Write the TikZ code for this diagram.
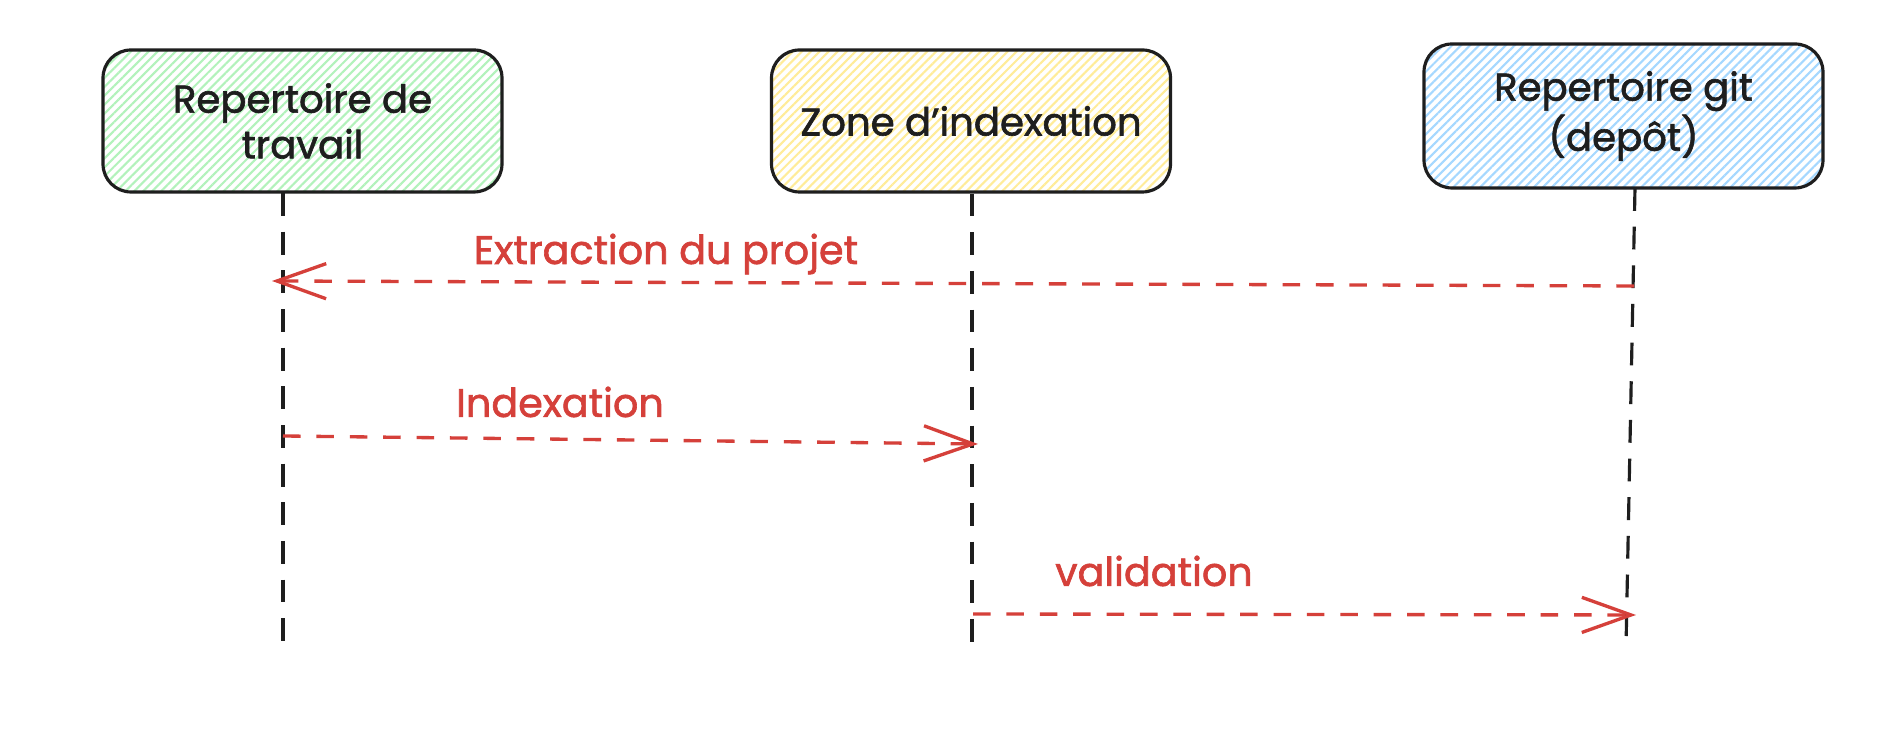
\documentclass[tikz,border=0pt]{standalone}
\usepackage{fontspec}
\setmainfont{Poppins}[FakeBold=1.6]
\usetikzlibrary{arrows.meta,patterns.meta}
\definecolor{ink}{HTML}{1E1E1E}
\definecolor{msgred}{HTML}{D5403A}
\definecolor{hgreen}{HTML}{B2F2BB}
\definecolor{hyellow}{HTML}{FFEC99}
\definecolor{hblue}{HTML}{A5D8FF}

\begin{document}
\begin{tikzpicture}[
    actor/.style={draw=ink, line width=0.9pt, rounded corners=0.28cm, minimum width=3.99cm, minimum height=1.42cm, align=center, text=ink, font=\fontsize{11}{13}\selectfont},
    hatch/.style={pattern={Lines[angle=45,distance=1.8pt,line width=0.6pt]}, pattern color=#1},
    life/.style={draw=ink, line width=0.9pt, dash pattern=on 6.5pt off 4.5pt},
    msg/.style={draw=msgred, line width=0.95pt, dash pattern=on 5pt off 4.5pt, -{Straight Barb[length=14pt,width=10pt,line width=0.95pt]}},
    lbl/.style={text=msgred, font=\fontsize{11.3}{13}\selectfont}
]
    \fill[white] (0,0) rectangle (18.98,-7.46);

    \node[actor, hatch=hgreen] (travail) at (3.025,-1.21) {Repertoire de\\travail};
    \node[actor, hatch=hyellow] (index) at (9.71,-1.21) {Zone d’indexation};
    \node[actor, hatch=hblue, minimum height=1.44cm] (depot) at (16.235,-1.16) {Repertoire git\\(depôt)};

    \coordinate (travailend) at (2.83,-6.48);
    \coordinate (indexend) at (9.72,-6.48);
    \coordinate (depottop) at (16.35,-1.88);
    \coordinate (depotend) at (16.26,-6.48);
    \draw[life] (travail.south -| travailend) -- (travailend);
    \draw[life] (index.south -| indexend) -- (indexend);
    \draw[life] (depottop) -- (depotend);

    \coordinate (extrfrom) at (16.34,-2.86);
    \coordinate (extrto) at (2.72,-2.81);
    \coordinate (idxfrom) at (2.83,-4.36);
    \coordinate (idxto) at (9.78,-4.44);
    \coordinate (valfrom) at (9.73,-6.14);
    \coordinate (valto) at (16.36,-6.15);

    \draw[msg] (extrfrom) -- (extrto);
    \draw[msg] (idxfrom) -- (idxto);
    \draw[msg] (valfrom) -- (valto);

    \node[lbl] (extr) at (6.66,-2.54) {Extraction du projet};
    \node[lbl] (idx) at (5.60,-4.02) {Indexation};
    \node[lbl] (val) at (11.54,-5.71) {validation};
\end{tikzpicture}
\end{document}
